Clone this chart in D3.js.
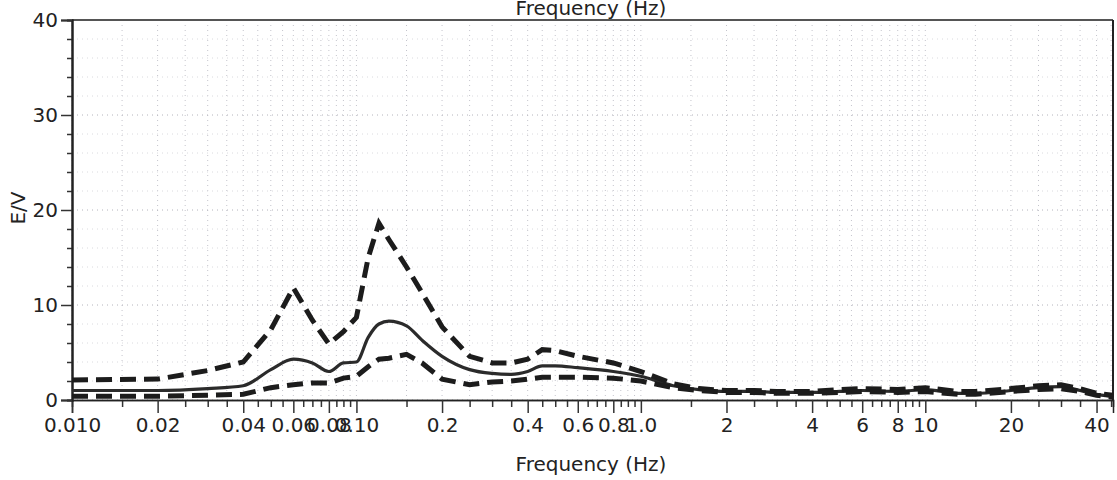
<!DOCTYPE html>
<html>
<head>
<meta charset="utf-8">
<script src="https://cdn.jsdelivr.net/npm/d3@7"></script>
<style>
    body { margin: 0; background: #fff; }
    svg, svg text { display: block; font-family: "DejaVu Sans", Verdana, sans-serif; }
</style>
</head>
<body>
<div id="chart"></div>
<script>
// frequency points (Hz) shared by the three curves
var freqs = [0.01, 0.02, 0.03, 0.04, 0.05, 0.06, 0.07, 0.08, 0.09, 0.1,
    0.11, 0.12, 0.13, 0.15, 0.17, 0.2, 0.25, 0.3, 0.35, 0.4,
    0.45, 0.5, 0.6, 0.8, 1.0, 1.3, 1.6, 2, 2.5, 3,
    4, 5, 6, 8, 10, 13, 15, 20, 25, 30,
    35, 40, 45.7]
// upper dashed bound
var upperVals = [2.1, 2.2, 3.1, 4.0, 7.4, 11.8, 8.4, 5.9, 7.2, 8.7,
    15.0, 18.6, 16.9, 14.0, 11.3, 7.7, 4.6, 3.9, 3.9, 4.3,
    5.3, 5.2, 4.6, 3.9, 3.0, 1.7, 1.2, 1.0, 1.0, 0.9,
    0.9, 1.1, 1.2, 1.1, 1.3, 0.9, 0.9, 1.2, 1.5, 1.6,
    1.2, 0.7, 0.5]
// mean (solid)
var meanVals = [1.0, 1.0, 1.2, 1.5, 3.2, 4.3, 3.9, 3.0, 3.9, 4.0,
    6.6, 8.0, 8.3, 7.8, 6.3, 4.6, 3.2, 2.8, 2.7, 3.0,
    3.6, 3.6, 3.4, 3.0, 2.5, 1.5, 1.1, 0.9, 0.9, 0.8,
    0.8, 0.9, 1.0, 0.9, 1.1, 0.7, 0.7, 1.0, 1.3, 1.4,
    1.0, 0.6, 0.4]
// lower dashed bound
var lowerVals = [0.4, 0.4, 0.5, 0.6, 1.3, 1.6, 1.8, 1.8, 2.3, 2.5,
    3.5, 4.3, 4.4, 4.8, 3.9, 2.2, 1.6, 1.9, 2.0, 2.2,
    2.4, 2.4, 2.4, 2.3, 2.0, 1.3, 1.0, 0.8, 0.8, 0.7,
    0.7, 0.8, 0.9, 0.8, 0.9, 0.6, 0.6, 0.9, 1.1, 1.2,
    0.9, 0.5, 0.3]

// axis ticks
var xMajorTicks = [0.01, 0.02, 0.04, 0.06, 0.08, 0.1, 0.2, 0.4, 0.6, 0.8, 1, 2, 4, 6, 8, 10, 20, 40]
var xTickLabels = ["0.010", "0.02", "0.04", "0.06", "0.08", "0.10", "0.2", "0.4", "0.6", "0.8", "1.0", "2", "4", "6", "8", "10", "20", "40"]
var minorMantissas = [1.5, 2.5, 3, 3.5, 4.5, 5, 5.5, 6.5, 7, 7.5, 8.5, 9, 9.5]
var yMajorTicks = [0, 10, 20, 30, 40]

const margin = { top: 20, left: 72, bottom: 80, right: 4 }
const config = {
    width: 1117,
    height: 480,
    plotWidth: 1113 - 72,
    plotHeight: 380,
    xMax: 45.7,
    font: '"DejaVu Sans", Verdana, sans-serif'
}

var xMinorTicks = []
;[0.01, 0.1, 1, 10].forEach(function (dec) {
    minorMantissas.forEach(function (m) {
        var v = +(dec * m).toPrecision(3)
        if (v < config.xMax && xMajorTicks.indexOf(v) < 0) xMinorTicks.push(v)
    })
})
var yMinorTicks = d3.range(0, 41, 2).filter(function (v) { return v % 10 !== 0 })

var xScale = d3.scaleLog().domain([0.01, config.xMax]).range([0, config.plotWidth])
var yScale = d3.scaleLinear().domain([0, 40]).range([config.plotHeight, 0])

var svg = d3.select('#chart').append('svg')
    .attr('width', config.width)
    .attr('height', config.height)

var g = svg.append('g')
    .attr('transform', 'translate(' + margin.left + ',' + margin.top + ')')

// dotted grid
g.append('g').selectAll('line')
    .data(xMajorTicks.concat(xMinorTicks))
    .enter().append('line')
    .attr('x1', d => xScale(d)).attr('x2', d => xScale(d))
    .attr('y1', 0).attr('y2', config.plotHeight)
    .attr('stroke', '#c4c4cc')
    .attr('stroke-width', 1)
    .attr('stroke-dasharray', '1,4')
g.append('g').selectAll('line')
    .data(yMajorTicks.concat(yMinorTicks))
    .enter().append('line')
    .attr('x1', 0).attr('x2', config.plotWidth)
    .attr('y1', d => yScale(d)).attr('y2', d => yScale(d))
    .attr('stroke', d => d % 10 === 0 ? '#b4b4bc' : '#dadade')
    .attr('stroke-width', 1)
    .attr('stroke-dasharray', '1,4')

// frame: top and right border
g.append('line').attr('x1', 0).attr('x2', config.plotWidth).attr('y1', 0).attr('y2', 0)
    .attr('stroke', '#555').attr('stroke-width', 2)
g.append('line').attr('x1', config.plotWidth).attr('x2', config.plotWidth).attr('y1', 0).attr('y2', config.plotHeight)
    .attr('stroke', '#222').attr('stroke-width', 2)

// x axis
var xAxisMajor = d3.axisBottom(xScale).tickValues(xMajorTicks)
    .tickFormat((d, i) => xTickLabels[i]).tickSize(13).tickPadding(5)
var xAxisMinor = d3.axisBottom(xScale).tickValues(xMinorTicks)
    .tickFormat('').tickSize(7)
var xg = g.append('g').attr('transform', 'translate(0,' + config.plotHeight + ')')
xg.call(xAxisMinor)
xg.append('g').call(xAxisMajor)
xg.selectAll('path.domain').attr('stroke', '#222').attr('stroke-width', 1.5)
xg.selectAll('.tick line').attr('stroke', '#333').attr('stroke-width', 1.5)
xg.selectAll('.tick text').attr('fill', '#222')
    .style('font-family', config.font).style('font-size', '20px')

// y axis
var yAxisMajor = d3.axisLeft(yScale).tickValues(yMajorTicks).tickSize(11).tickPadding(3)
var yAxisMinor = d3.axisLeft(yScale).tickValues(yMinorTicks).tickFormat('').tickSize(5)
var yg = g.append('g')
yg.call(yAxisMinor)
yg.append('g').call(yAxisMajor)
yg.selectAll('path.domain').attr('stroke', '#222').attr('stroke-width', 2)
yg.selectAll('.tick line').attr('stroke', '#333').attr('stroke-width', 1.5)
yg.selectAll('.tick text').attr('fill', '#222')
    .style('font-family', config.font).style('font-size', '20px')

// curves
var rows = freqs.map((f, i) => ({ f: f, up: upperVals[i], mean: meanVals[i], low: lowerVals[i] }))
var lineOf = key => d3.line().x(d => xScale(d.f)).y(d => yScale(d[key]))

g.append('path').datum(rows)
    .attr('d', lineOf('mean').curve(d3.curveMonotoneX))
    .attr('fill', 'none').attr('stroke', '#2b2b2b').attr('stroke-width', 3.2)
;['up', 'low'].forEach(function (key) {
    g.append('path').datum(rows)
        .attr('d', lineOf(key))
        .attr('fill', 'none')
        .attr('stroke', '#1c1c1c')
        .attr('stroke-width', 5)
        .attr('stroke-dasharray', '16,8')
})

// titles
svg.append('text').attr('x', 591).attr('y', 15)
    .attr('text-anchor', 'middle').style('font-size', '20px').attr('fill', '#222')
    .text('Frequency (Hz)')
svg.append('text').attr('x', 591).attr('y', 471)
    .attr('text-anchor', 'middle').style('font-size', '20px').attr('fill', '#222')
    .text('Frequency (Hz)')
svg.append('text')
    .attr('transform', 'translate(25,208) rotate(-90)')
    .attr('text-anchor', 'middle').style('font-size', '20px').attr('fill', '#222')
    .text('E/V')
</script>
</body>
</html>
